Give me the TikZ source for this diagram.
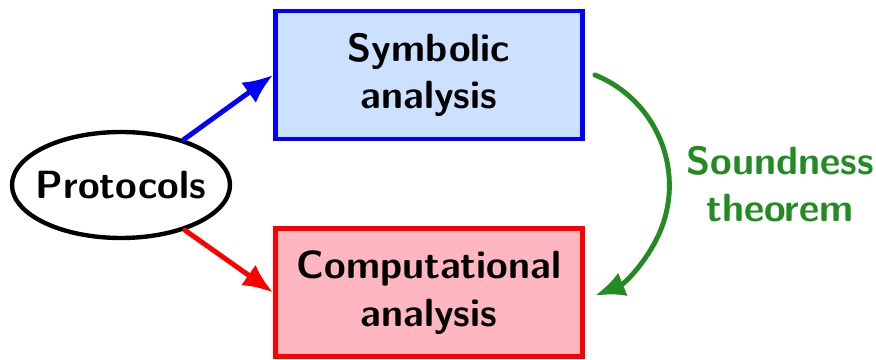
\documentclass[tikz,border=0pt]{standalone}
\usepackage{tikz}
\usetikzlibrary{arrows.meta,shapes.geometric,positioning}
\definecolor{symfill}{RGB}{204,224,255}
\definecolor{compfill}{RGB}{255,182,193}
\definecolor{proofgreen}{RGB}{34,139,34}

\begin{document}
\begin{tikzpicture}[line cap=round,
  font=\fontsize{22.4}{27}\selectfont\sffamily\bfseries,
  box/.style={draw,line width=2.8pt,minimum width=6.14cm,minimum height=2.56cm,align=center},
  link/.style={-{Latex[length=6mm,width=5mm]},line width=2.8pt}]
\useasboundingbox (0,0) rectangle (17.52,-7.2);
\node[ellipse,draw,line width=2.5pt,minimum width=4.36cm,minimum height=2.12cm,inner xsep=-0.2cm,inner ysep=0pt] (proto) at (2.42,-3.7) {Protocols};
\node[box,draw=blue,fill=symfill] (sym) at (8.58,-1.5) {Symbolic\\analysis};
\node[box,draw=red,fill=compfill] (comp) at (8.58,-5.85) {Computational\\analysis};
\draw[link,blue] (proto) -- (sym.west);
\draw[link,red] (proto) -- (comp.west);
\coordinate (gs) at ([xshift=0.2cm]sym.east);
\draw[link,proofgreen] (gs) arc[start angle=68,end angle=-68,radius=2.38cm];
\node[text=proofgreen,align=center] (thm) at (15.6,-3.68) {Soundness\\theorem};
\end{tikzpicture}
\end{document}
